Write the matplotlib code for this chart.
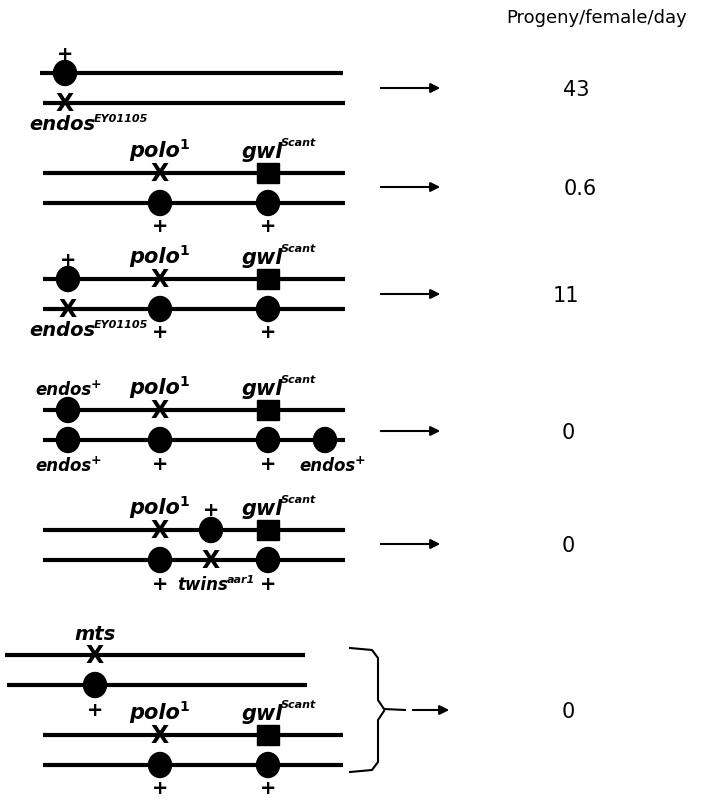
import matplotlib
matplotlib.use("Agg")
import matplotlib.pyplot as plt
from matplotlib.patches import Ellipse, Rectangle

progeny = ["43", "0.6", "11", "0", "0", "0"]
arrow_y = [88, 187, 294, 431, 544, 710]
value_x = [576, 580, 566, 568, 568, 568]
header = "Progeny/female/day"

fig = plt.figure(figsize=(7.06, 8.0), dpi=100)
ax = fig.add_axes([0, 0, 1, 1])
ax.set_xlim(0, 706); ax.set_ylim(800, 0); ax.axis("off")

LW = 3
def line(x0, x1, y): ax.plot([x0, x1], [y, y], color="black", lw=LW, solid_capstyle="butt")
def circ(x, y): ax.add_patch(Ellipse((x, y), 23, 25, color="black", zorder=3))
def sq(x, y): ax.add_patch(Rectangle((x-11, y-10), 22, 20, color="black", zorder=3))
def cross(x, y): ax.text(x, y + 1, "X", ha="center", va="center", fontsize=17, fontweight="semibold", zorder=4)
def lab(x, y, s, sup=None, fs=13, supfs=8, supit=True, supy=0.8):
    t = ax.text(x, y, s, ha="center", va="center", fontsize=fs, fontweight="bold", style="italic")
    if sup:
        ax.annotate(sup, xy=(1.0, supy), xycoords=t, xytext=(-1, 0), textcoords="offset points",
                    ha="left", va="center", fontsize=supfs,
                    fontweight="bold", style="italic" if supit else "normal")
def plus(x, y): lab(x, y, "+", fs=14)

def pologwl(y1, y2, x0=43, x1=345):
    line(x0, x1, y1); line(x0, x1, y2)
    cross(160, y1); sq(268, y1); circ(160, y2); circ(268, y2)
    lab(155, y1-22, "polo", "1", fs=15, supfs=10, supit=False)
    lab(262, y1-21, "gwl", "Scant", fs=15, supfs=8, supy=0.95)
    plus(160, y2+24); plus(268, y2+24)

# group 1
line(40, 343, 73); line(43, 345, 103)
circ(65, 73); plus(65, 55); cross(65, 103); lab(62, 125, "endos", "EY01105", fs=14)
# group 2
pologwl(173, 203)
# group 3
pologwl(279, 309); circ(68, 279); plus(68, 260); cross(68, 309); lab(62, 331, "endos", "EY01105", fs=14)
# group 4
pologwl(410, 440); circ(68, 410); lab(64, 390, "endos", "+", fs=12, supfs=9, supit=False)
circ(68, 440); lab(64, 466, "endos", "+", fs=12, supfs=9, supit=False)
circ(325, 440); lab(328, 466, "endos", "+", fs=12, supfs=9, supit=False)
# group 5
pologwl(530, 560); circ(211, 530); plus(211, 510); cross(211, 560)
lab(203, 585, "twins", "aar1", fs=12, supfs=8)
# group 6
line(5, 305, 655); line(7, 307, 685)
cross(95, 655); lab(95, 634, "mts", fs=14); circ(95, 685); plus(95, 710)
pologwl(735, 765, 43, 343)
# bracket
ax.plot([350, 372, 378, 378, 384, 405], [648, 650, 658, 700, 709, 710], color="black", lw=1.5)
ax.plot([350, 372, 378, 378, 384], [772, 770, 762, 720, 711], color="black", lw=1.5)

for i, (y, v, vx) in enumerate(zip(arrow_y, progeny, value_x)):
    x0, x1 = (410, 452) if i == 5 else (378, 443)
    ax.annotate("", xy=(x1, y), xytext=(x0, y),
                arrowprops=dict(arrowstyle="-|>", color="black", lw=1.5, mutation_scale=14))
    ax.text(vx, y + 2, v, ha="center", va="center", fontsize=15)
ax.text(597, 18, header, ha="center", va="center", fontsize=13)

fig.savefig("out.png", dpi=100)
